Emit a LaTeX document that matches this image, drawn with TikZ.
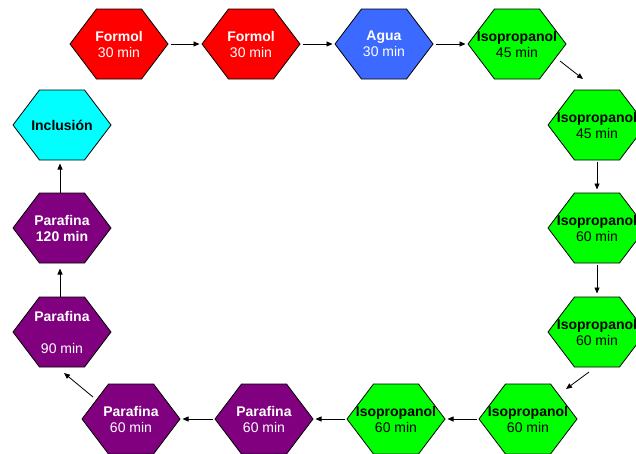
\documentclass[tikz,border=0pt]{standalone}
\usepackage{fontspec}
\setmainfont{Liberation Sans}
\usetikzlibrary{arrows.meta}
\definecolor{hred}{RGB}{255,0,0}
\definecolor{hblue}{RGB}{60,105,255}
\definecolor{hgreen}{RGB}{0,255,0}
\definecolor{hpurple}{RGB}{128,0,128}
\definecolor{hcyan}{RGB}{0,255,255}
\tikzset{
  hex/.style 2 args={rectangle, minimum width=99pt, minimum height=71pt,
    inner sep=0pt, outer sep=0pt, align=center, text=#2,
    font=\fontsize{14}{16}\selectfont,
    path picture={
      \draw[fill=#1, line width=0.8pt, line join=miter]
        ([xshift=0.5pt]path picture bounding box.west)
        -- ([xshift=-22.5pt,yshift=-0.5pt]path picture bounding box.north)
        -- ([xshift=22.5pt,yshift=-0.5pt]path picture bounding box.north)
        -- ([xshift=-0.5pt]path picture bounding box.east)
        -- ([xshift=22.5pt,yshift=0.5pt]path picture bounding box.south)
        -- ([xshift=-22.5pt,yshift=0.5pt]path picture bounding box.south)
        -- cycle;}},
  arr/.style={draw=black, line width=0.8pt, -{Triangle[length=6pt,width=5pt]}},
}
\begin{document}
\begin{tikzpicture}[x=1pt,y=-1pt]
\useasboundingbox (0,0) rectangle (636,453);
\clip (0,0) rectangle (636,453);
% top row
\node[hex={hred}{white}] (F1) at (119,44) {\textbf{Formol}\\30 min};
\node[hex={hred}{white}] (F2) at (251,44) {\textbf{Formol}\\30 min};
\node[hex={hblue}{white}] (AG) at (384,44) {\textbf{Agua}\\30 min};
\node[hex={hgreen}{black}] (I1) at (517,44) {\textbf{Isopropanol}\\45 min};
% right column
\node[hex={hgreen}{black}] (I2) at (597,125) {\textbf{Isopropanol}\\45 min};
\node[hex={hgreen}{black}] (I3) at (597,228) {\textbf{Isopropanol}\\60 min};
\node[hex={hgreen}{black}] (I4) at (597,332) {\textbf{Isopropanol}\\60 min};
% bottom row
\node[hex={hgreen}{black}] (I5) at (528,419) {\textbf{Isopropanol}\\60 min};
\node[hex={hgreen}{black}] (I6) at (396,419) {\textbf{Isopropanol}\\60 min};
\node[hex={hpurple}{white}] (P1) at (264,419) {\textbf{Parafina}\\60 min};
\node[hex={hpurple}{white}] (P2) at (131,419) {\textbf{Parafina}\\60 min};
% left column
\node[hex={hpurple}{white}] (P90) at (62,332) {\textbf{Parafina}\\[16pt]90 min};
\node[hex={hpurple}{white}] (P120) at (62,228) {\textbf{Parafina}\\\textbf{120 min}};
\node[hex={hcyan}{black}] (INC) at (62,125) {\textbf{Inclusión}};
% free ends of diagonal connectors
\coordinate (d1a) at (560,61);
\coordinate (d1b) at (583,79);
\coordinate (d2a) at (589,372);
\coordinate (d2b) at (566,389);
\coordinate (d3a) at (93,397);
\coordinate (d3b) at (64,373);
% connectors
\draw[arr, shorten <=2pt, shorten >=2pt] (F1.east) -- (F2.west);
\draw[arr, shorten <=2pt, shorten >=2pt] (F2.east) -- (AG.west);
\draw[arr, shorten <=2pt, shorten >=2pt] (AG.east) -- (I1.west);
\draw[arr] (d1a) -- (d1b);
\draw[arr, shorten <=1pt, shorten >=3pt] (I2.south) -- (I3.north);
\draw[arr, shorten <=1pt, shorten >=3pt] (I3.south) -- (I4.north);
\draw[arr] (d2a) -- (d2b);
\draw[arr, shorten <=2pt, shorten >=2pt] (I5.west) -- (I6.east);
\draw[arr, shorten <=2pt, shorten >=2pt] (I6.west) -- (P1.east);
\draw[arr, shorten <=2pt, shorten >=2pt] (P1.west) -- (P2.east);
\draw[arr] (d3a) -- (d3b);
\draw[arr, shorten <=0pt, shorten >=5pt] ([xshift=-2pt]P90.north) -- ([xshift=-2pt]P120.south);
\draw[arr, shorten <=0pt, shorten >=3pt] ([xshift=-2pt]P120.north) -- ([xshift=-2pt]INC.south);
\end{tikzpicture}
\end{document}
